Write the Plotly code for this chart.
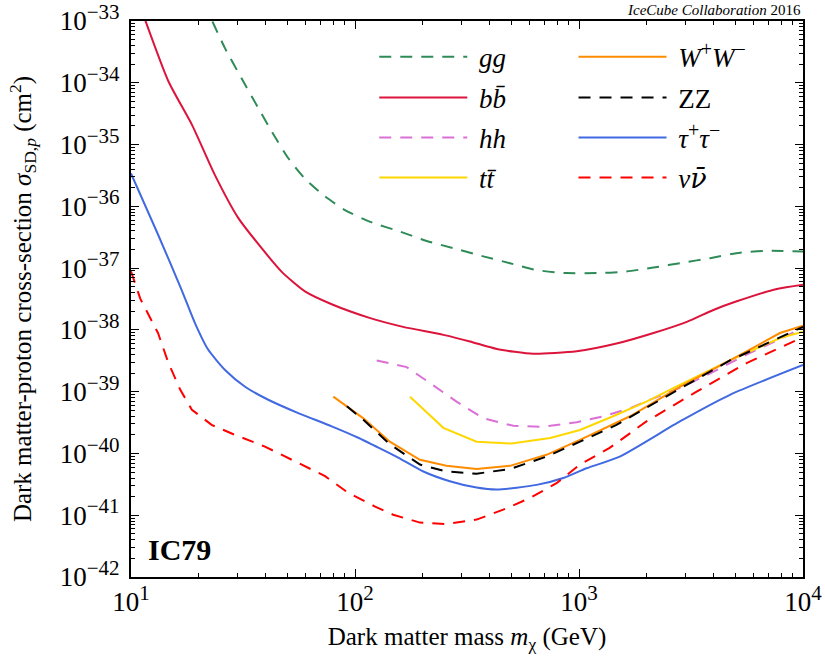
import plotly.graph_objects as go

# ---------------- data ----------------
gg_m = [23.1, 26.3, 31.2, 37.0, 42.5, 50.4, 59.8, 73.5, 90.2, 117, 159, 209, 275, 374, 492, 647, 881, 1200, 1580, 2150, 2920, 3850, 5240, 6890, 10000]
gg_s = [9.8e-34, 3.6e-34, 1.17e-34, 3.9e-35, 1.62e-35, 6.0e-36, 2.8e-36, 1.45e-36, 8.7e-37, 5.6e-37, 3.9e-37, 2.75e-37, 2.1e-37, 1.55e-37, 1.2e-37, 9.3e-38, 8.3e-38, 8.3e-38, 8.7e-38, 1.02e-37, 1.23e-37, 1.45e-37, 1.78e-37, 1.9e-37, 1.86e-37]

bb_m = [11.5, 14.7, 18.7, 23.7, 30.1, 38.3, 47.1, 59.8, 78.7, 117, 164, 248, 326, 430, 625, 977, 1470, 2150, 3030, 3980, 5060, 7640, 10000]
bb_s = [1.1e-33, 1.05e-34, 2.1e-35, 3.2e-36, 6.5e-37, 2.1e-37, 8.7e-38, 4.2e-38, 2.6e-38, 1.55e-38, 1.12e-38, 8.3e-39, 6.5e-39, 4.9e-39, 4.1e-39, 4.5e-39, 6.0e-39, 8.9e-39, 1.35e-38, 2.1e-38, 2.9e-38, 4.6e-38, 5.4e-38]

hh_m = [125, 170, 216, 284, 374, 509, 693, 977, 1290, 1690, 2150, 2820, 3720, 5620, 10000]
hh_s = [3.2e-39, 2.5e-39, 1.38e-39, 6.9e-40, 3.7e-40, 2.8e-40, 2.7e-40, 3.2e-40, 4.0e-40, 5.4e-40, 7.8e-40, 1.15e-39, 1.86e-39, 4.0e-39, 1.07e-38]

tt_m = [176, 248, 349, 500, 743, 1010, 1420, 2000, 2820, 4720, 7890, 10000]
tt_s = [8.3e-40, 2.6e-40, 1.55e-40, 1.45e-40, 1.78e-40, 2.4e-40, 4.0e-40, 6.9e-40, 1.29e-39, 3.2e-39, 7.4e-39, 9.3e-39]

ww_m = [80, 109, 143, 195, 256, 349, 492, 716, 1010, 1690, 2820, 4720, 7890, 10000]
ww_s = [8.3e-40, 3.7e-40, 1.55e-40, 7.9e-41, 6.3e-41, 5.6e-41, 6.3e-41, 9.5e-41, 1.66e-40, 4.0e-40, 1.2e-39, 3.2e-39, 8.9e-39, 1.17e-38]

zz_m = [92, 109, 143, 195, 256, 349, 492, 716, 1010, 1470, 2820, 4720, 10000]
zz_s = [5.8e-40, 3.5e-40, 1.41e-40, 6.6e-41, 5.1e-41, 4.7e-41, 5.6e-41, 8.9e-41, 1.55e-40, 2.9e-40, 1.12e-39, 3.2e-39, 1.12e-38]

tau_m = [10, 13.2, 16.8, 19.3, 22.1, 26.3, 32.3, 41.0, 55.8, 78.7, 104, 123, 153, 202, 265, 349, 430, 647, 851, 1080, 1520, 2820, 4720, 10000]
tau_s = [3.4e-36, 3.5e-37, 4.5e-38, 1.29e-38, 4.8e-39, 2.24e-39, 1.2e-39, 7.4e-40, 4.5e-40, 2.75e-40, 1.78e-40, 1.32e-40, 8.9e-41, 5.1e-41, 3.55e-41, 2.8e-41, 2.6e-41, 3.1e-41, 4.0e-41, 5.75e-41, 8.9e-41, 3.3e-40, 8.9e-40, 2.7e-39]

nu_m = [10, 11.0, 13.2, 14.7, 16.6, 18.7, 22.9, 29.1, 39.6, 54.0, 73.5, 93.3, 123, 148, 195, 256, 349, 459, 604, 794, 1010, 1370, 2000, 3350, 5600, 10000]
nu_s = [8.9e-38, 3.2e-38, 8.9e-39, 2.9e-39, 1.07e-39, 5.1e-40, 2.9e-40, 2.0e-40, 1.29e-40, 7.4e-41, 4.3e-41, 2.3e-41, 1.38e-41, 1.02e-41, 7.6e-42, 7.2e-42, 8.5e-42, 1.23e-41, 1.9e-41, 3.3e-41, 6.6e-41, 1.23e-40, 3.3e-40, 1.0e-39, 2.9e-39, 7.6e-39]

x_tick_vals = [10, 100, 1000, 10000]
x_exponents = [1, 2, 3, 4]
y_exponents = [-42, -41, -40, -39, -38, -37, -36, -35, -34, -33]

SUP = "<sup><span style='font-size:21px'>%s</span></sup>"
x_tick_text = ["10" + SUP % e for e in x_exponents]
y_tick_text = ["10" + SUP % ("\u2212%d" % (-e)) for e in y_exponents]

SP = "\u00a0"
LSUP = "<sup><span style='font-size:20px'>%s</span></sup>"
names = {
    "gg": SP + "<i>gg</i>",
    "bb": SP + "<i>b</i><i>b\u0304</i>",
    "hh": SP + "<i>hh</i>",
    "tt": SP + "<i>t</i><i>t\u0304</i>",
    "ww": SP + "<i>W</i>" + LSUP % "+" + "<i>W</i>" + LSUP % "\u2212",
    "zz": SP + "ZZ",
    "tau": SP + "<i>\u03c4</i>" + LSUP % "+" + "<i>\u03c4</i>" + LSUP % "\u2212",
    "nu": SP + "<i>\u03bd</i><span style=\"font-family:'DejaVu Serif'\"><i>\u03bd\u0304</i></span>",
}

SERIF = "Liberation Serif"
DASH = "12px,9px"

# key, x, y, colour, dash, shape, legend column, legend row
series = [
    ("gg", gg_m, gg_s, "#2e8b57", DASH, "spline", 0, 0),
    ("bb", bb_m, bb_s, "#dc143c", "solid", "spline", 0, 1),
    ("hh", hh_m, hh_s, "#da70d6", DASH, "linear", 0, 2),
    ("tt", tt_m, tt_s, "#ffd700", "solid", "linear", 0, 3),
    ("ww", ww_m, ww_s, "#ff8c00", "solid", "linear", 1, 0),
    ("zz", zz_m, zz_s, "#000000", DASH, "linear", 1, 1),
    ("tau", tau_m, tau_s, "#4169e1", "solid", "spline", 1, 2),
    ("nu", nu_m, nu_s, "#ff0000", DASH, "linear", 1, 3),
]

col_x = [0.362, 0.6585]
row_y = [0.935, 0.8615, 0.7896, 0.7176]

legend_common = dict(
    font=dict(family=SERIF, size=27, color="black"), bgcolor="rgba(0,0,0,0)",
    borderwidth=0, itemwidth=88, yanchor="middle", xanchor="left",
)

fig = go.Figure()
layout_legends = {}
for i, (key, xm, ys, col, dash, shape, c, r) in enumerate(series):
    line = dict(color=col, width=2, dash=dash, shape=shape)
    if shape == "spline":
        line["smoothing"] = 0.6
    lname = "legend" if i == 0 else "legend%d" % (i + 1)
    fig.add_trace(go.Scatter(
        x=xm, y=ys, mode="lines", name=names[key], line=line,
        legend=lname, showlegend=True,
    ))
    layout_legends[lname] = dict(**legend_common, x=col_x[c], y=row_y[r])

axis_common = dict(
    type="log", showline=True, linecolor="black", linewidth=2, mirror="allticks",
    ticks="inside", ticklen=8, tickwidth=1.3, tickcolor="black", automargin=False,
    showgrid=False, zeroline=False,
    tickfont=dict(family=SERIF, size=27, color="black"),
    minor=dict(ticks="inside", ticklen=4, tickwidth=1, tickcolor="black", dtick="D1", showgrid=False),
)

fig.update_xaxes(
    **axis_common, range=[1, 4], tickmode="array",
    tickvals=x_tick_vals, ticktext=x_tick_text,
    title=dict(text="Dark matter mass <i>m</i><sub>\u03c7</sub> (GeV)",
               font=dict(family=SERIF, size=25, color="black"), standoff=11),
)
fig.update_yaxes(
    **axis_common, range=[-42, -33], tickmode="array",
    tickvals=[10.0 ** e for e in y_exponents], ticktext=y_tick_text,
    ticklabelstandoff=4,
    title=dict(text="Dark matter-proton cross-section <i>\u03c3</i><sub>SD,<i>p</i></sub> (cm<sup>2</sup>)",
               font=dict(family=SERIF, size=25, color="black"), standoff=21),
)

fig.update_layout(
    width=825, height=662,
    margin=dict(l=131, r=22, t=21, b=85),
    paper_bgcolor="white", plot_bgcolor="white",
    **layout_legends,
    annotations=[
        dict(text="<i>IceCube Collaboration</i> 2016", xref="paper", yref="paper",
             x=1.0, y=1.0, xanchor="right", yanchor="bottom", yshift=1, showarrow=False,
             font=dict(family=SERIF, size=15, color="black")),
        dict(text="<b>IC79</b>", xref="paper", yref="paper", x=0.022, y=0.05,
             xanchor="left", yanchor="middle", showarrow=False,
             font=dict(family=SERIF, size=30, color="black")),
    ],
)

fig.write_html("out.html", config={"displayModeBar": False},
               post_script="document.body.style.margin='0';")
